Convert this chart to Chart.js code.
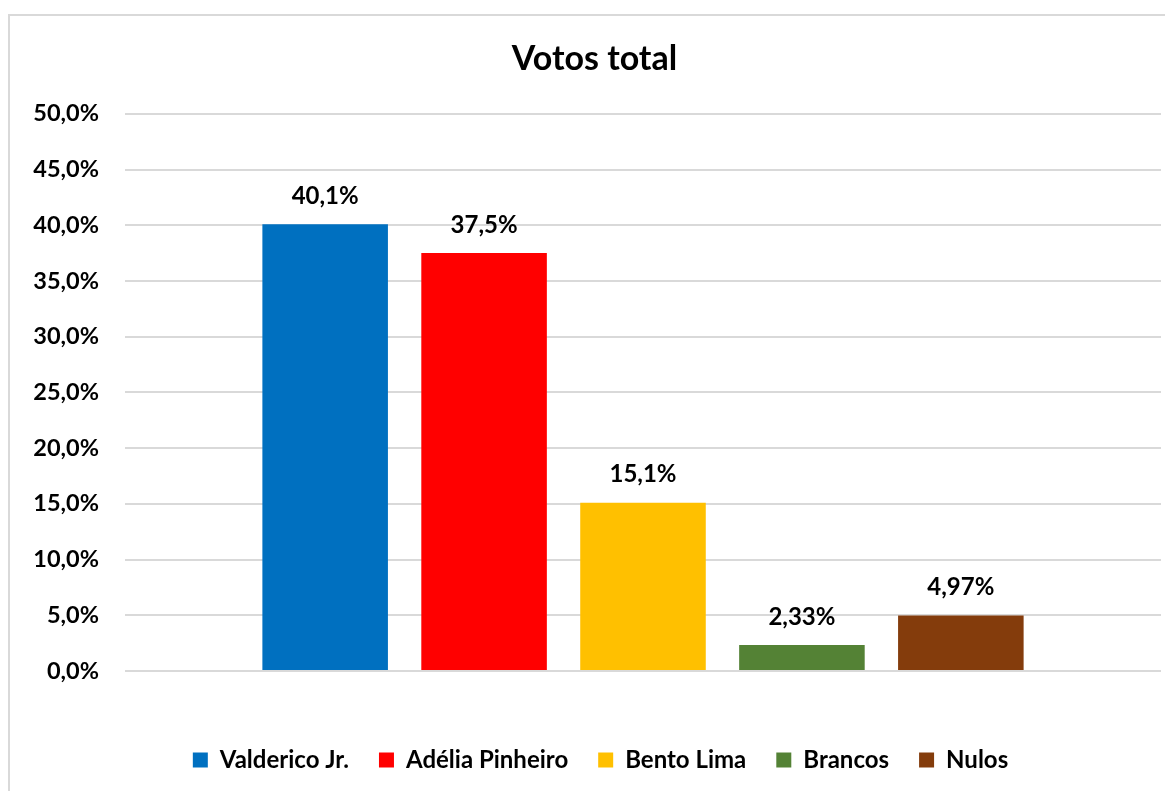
<!DOCTYPE html>
<html>
<head>
<meta charset="utf-8">
<script src="https://cdn.jsdelivr.net/npm/chart.js@4/dist/chart.umd.min.js"></script>
<style>
    html, body { margin: 0; padding: 0; background: #ffffff; overflow: hidden; }
    #frame {
        position: absolute; left: 8px; top: 14px;
        width: 1170px; height: 800px;
        border: 2px solid #d9d9d9; box-sizing: border-box;
    }
    #wrap { position: absolute; left: 0; top: 0; width: 1165px; height: 791px; }
</style>
</head>
<body>
<div id="frame"></div>
<div id="wrap"><canvas id="votos-chart"></canvas></div>
<script>
// dados do gráfico
var candidatos = ['Valderico Jr.', 'Adélia Pinheiro', 'Bento Lima', 'Brancos', 'Nulos'];
var percentuais = [40.1, 37.5, 15.1, 2.33, 4.97];
var rotulos = ['40,1%', '37,5%', '15,1%', '2,33%', '4,97%'];
var cores = ['#0070C0', '#FF0000', '#FFC000', '#548235', '#843C0C'];
var yTicks = [0, 5, 10, 15, 20, 25, 30, 35, 40, 45, 50];

var fonte = "Lato, 'Open Sans', sans-serif";

// um dataset por candidato, para a legenda mostrar cada um
var datasets = [];
for (let i = 0; i < candidatos.length; i++) {
    datasets.push({
        label: candidatos[i],
        data: [percentuais[i]],
        backgroundColor: cores[i],
        borderWidth: 0,
        barPercentage: 0.79,
        categoryPercentage: 0.767,
        rotulo: rotulos[i]
    });
}

// plugin para escrever o valor acima de cada barra
var rotuloPlugin = {
    id: 'rotuloBarras',
    afterDatasetsDraw: function (chart) {
        let ctx = chart.ctx;
        ctx.save();
        ctx.font = 'bold 24px ' + fonte;
        ctx.fillStyle = '#000000';
        ctx.textAlign = 'center';
        ctx.textBaseline = 'middle';
        chart.data.datasets.forEach(function (ds, i) {
            let bar = chart.getDatasetMeta(i).data[0];
            ctx.fillText(ds.rotulo, bar.x, bar.y - 28);
        });
        ctx.restore();
    }
};

// título e legenda ficam um pouco à direita no original
var deslocaPlugin = {
    id: 'desloca',
    afterLayout: function (chart) {
        chart.legend.left += 16;
        chart.legend.right += 16;
        chart.titleBlock.left += 10;
        chart.titleBlock.right += 10;
    }
};

var ctx = document.getElementById('votos-chart').getContext('2d');

var votosChart = new Chart(ctx, {
    type: 'bar',
    data: {
        labels: [''],
        datasets: datasets
    },
    options: {
        responsive: true,
        maintainAspectRatio: false,
        animation: false,
        layout: {
            padding: { left: 8, right: 4, top: 0, bottom: 9 }
        },
        scales: {
            x: {
                grid: { display: false, drawTicks: false },
                border: { display: false },
                ticks: { display: false },
                afterFit: function (scale) {
                    scale.height = 47;
                }
            },
            y: {
                min: 0,
                max: 50,
                afterBuildTicks: function (scale) {
                    scale.ticks = yTicks.map(function (v) { return { value: v }; });
                },
                afterFit: function (scale) {
                    scale.width = 117;
                },
                grid: { color: '#d9d9d9', lineWidth: 2, drawTicks: false },
                border: { display: false },
                ticks: {
                    padding: 26,
                    color: '#000000',
                    font: { family: fonte, size: 23.5, weight: 'bold' },
                    callback: function (v) {
                        return v.toFixed(1).replace('.', ',') + '%';
                    }
                }
            }
        },
        plugins: {
            title: {
                display: true,
                text: 'Votos total',
                color: '#000000',
                font: { family: fonte, size: 34, weight: 'bold' },
                padding: { top: 39, bottom: 34 }
            },
            legend: {
                position: 'bottom',
                labels: {
                    boxWidth: 15,
                    boxHeight: 15,
                    padding: 30,
                    color: '#000000',
                    font: { family: fonte, size: 24, weight: 'bold' }
                }
            },
            tooltip: { enabled: false }
        }
    },
    plugins: [rotuloPlugin, deslocaPlugin]
});
</script>
</body>
</html>
